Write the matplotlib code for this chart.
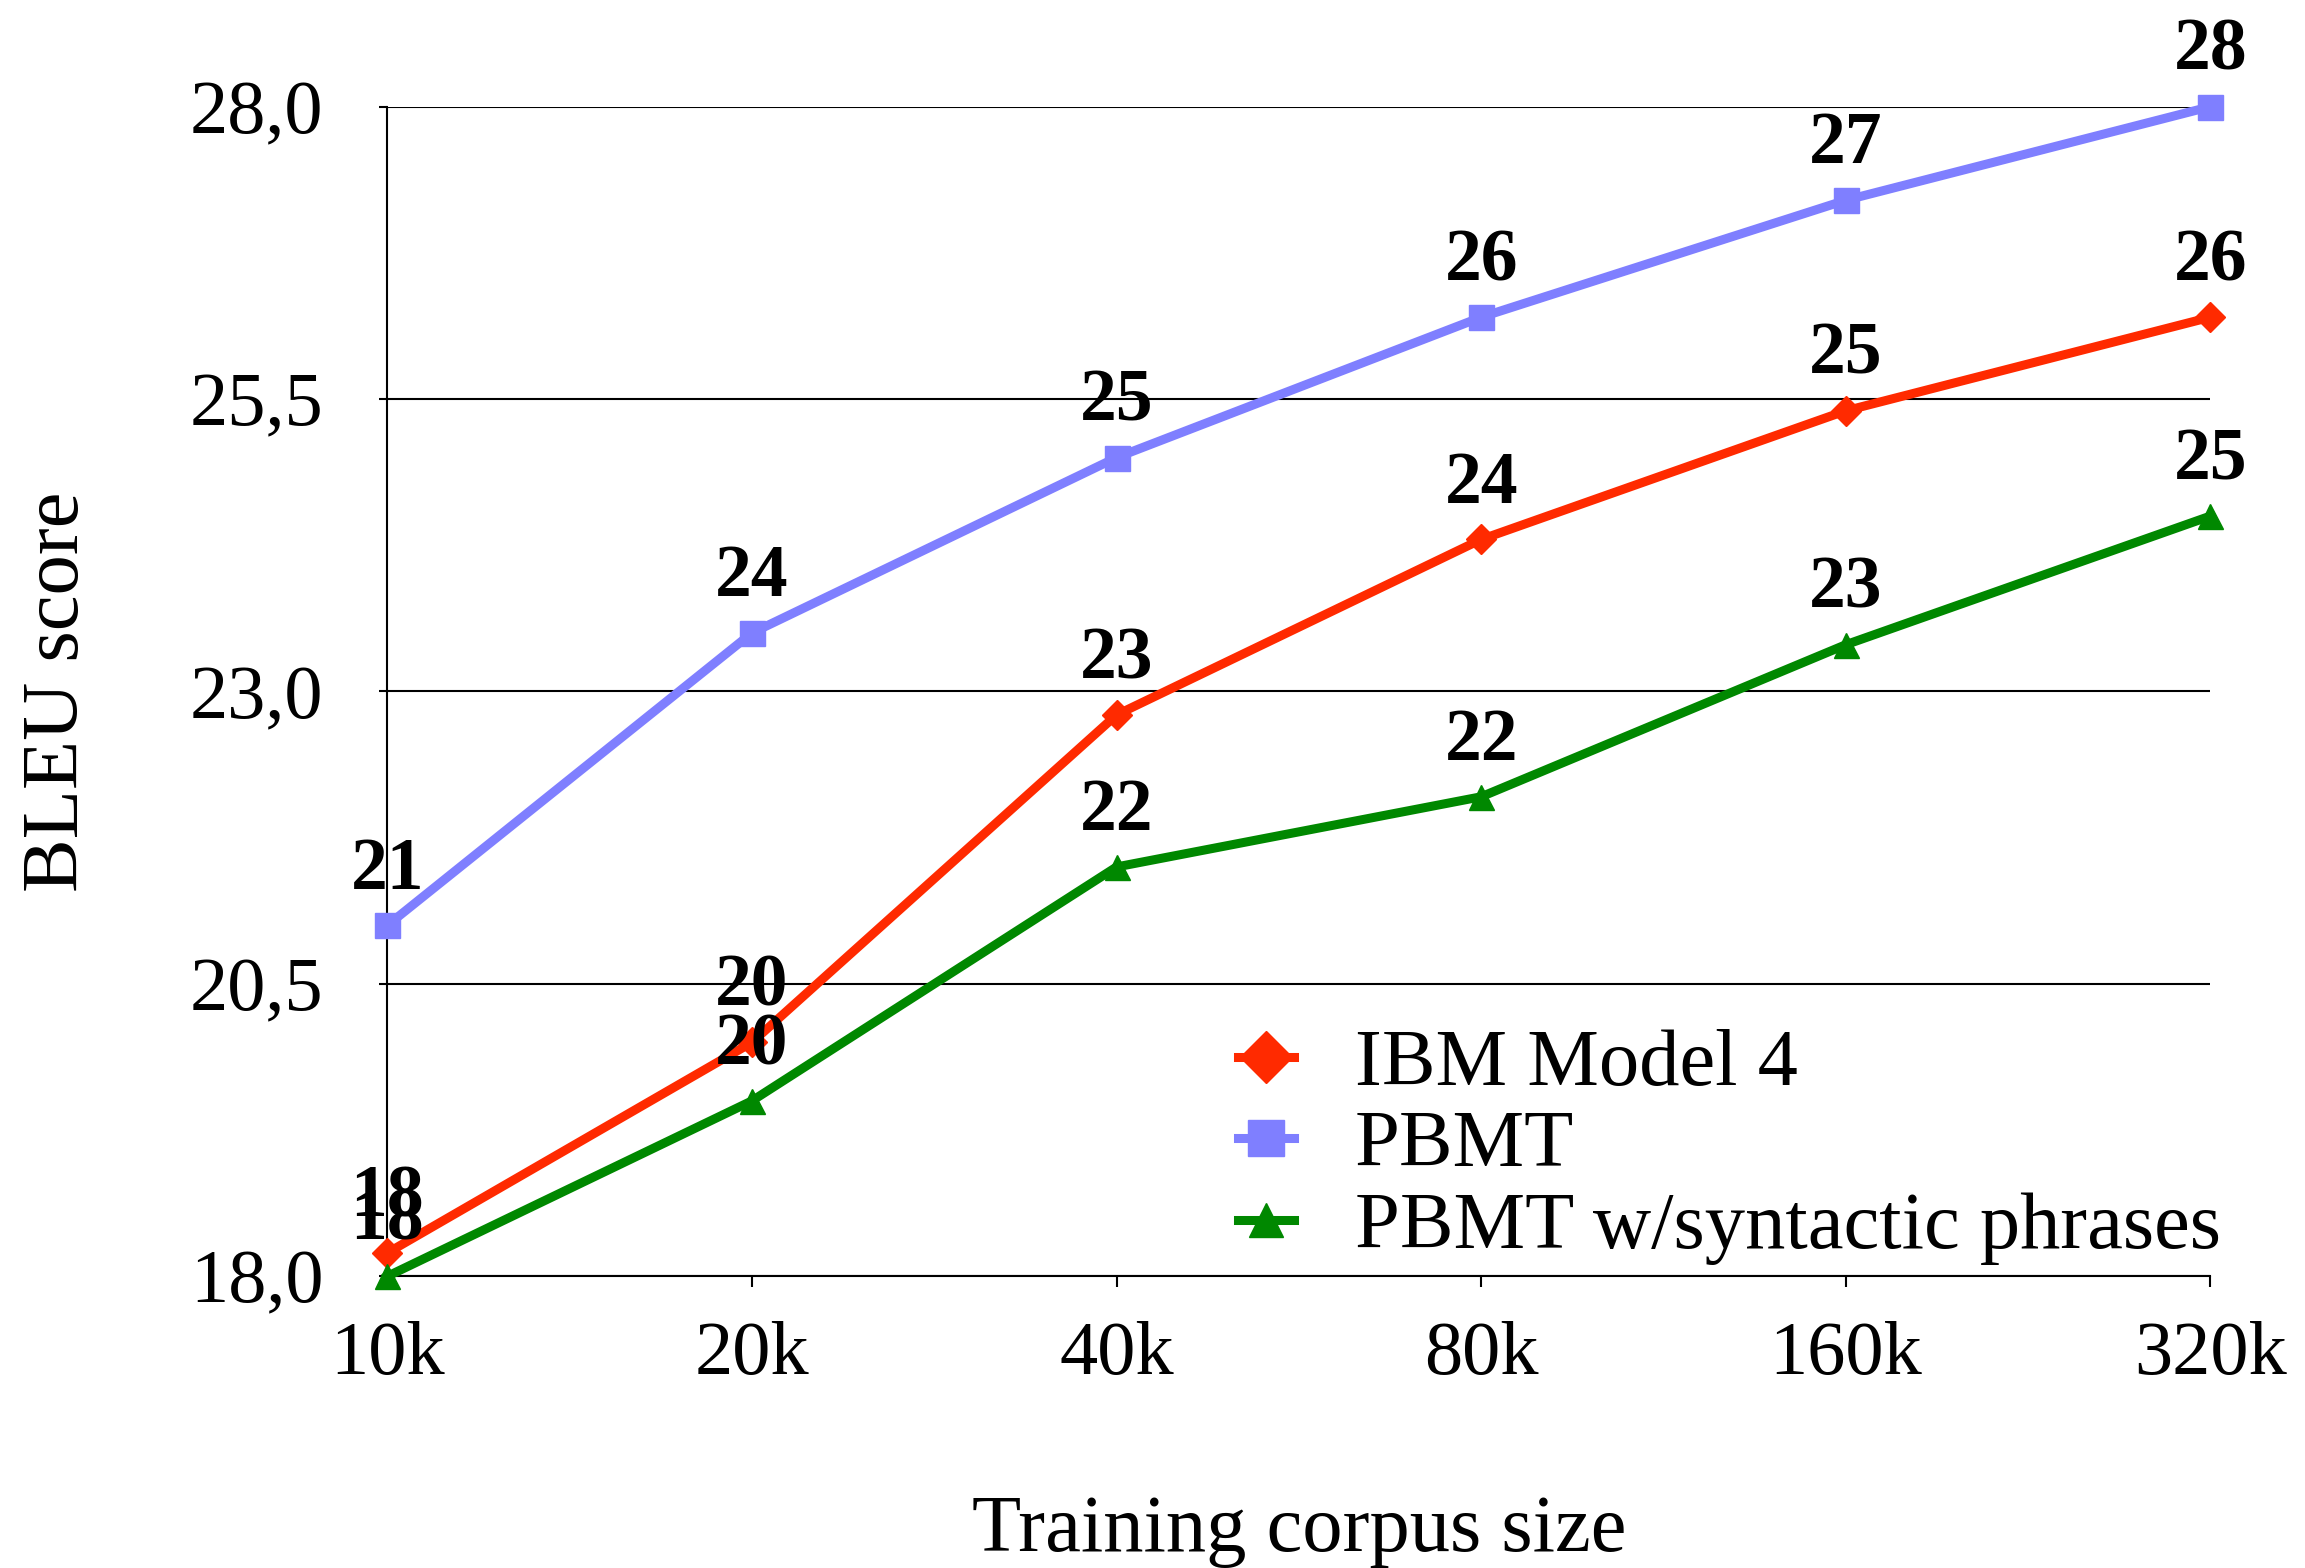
import matplotlib
matplotlib.use("Agg")
import matplotlib.pyplot as plt
from matplotlib.ticker import FuncFormatter

# datos
tamanos = ["10k", "20k", "40k", "80k", "160k", "320k"]
ibm_model4 = [18.2, 20.0, 22.8, 24.3, 25.4, 26.2]
pbmt = [21.0, 23.5, 25.0, 26.2, 27.2, 28.0]
pbmt_sintactico = [18.0, 19.5, 21.5, 22.1, 23.4, 24.5]
ticks_y = [18.0, 20.5, 23.0, 25.5, 28.0]

plt.rcParams["font.family"] = ["Liberation Serif", "DejaVu Serif"]

fig = plt.figure(figsize=(23.05, 15.68), dpi=100)
ax = fig.add_axes([0.168, 0.186, 0.791, 0.746])

x = list(range(len(tamanos)))
series = [
    ("IBM Model 4", ibm_model4, "#FF2A00", "D", 15),
    ("PBMT", pbmt, "#7F7FFF", "s", 18),
    ("PBMT w/syntactic phrases", pbmt_sintactico, "#008800", "^", 18),
]

for nombre, valores, color, marcador, tam in series:
    ax.plot(x, valores, color=color, lw=6.5, marker=marcador, markersize=tam,
            label=nombre, zorder=3, clip_on=False)
    for xi, v in zip(x, valores):
        # redondeo "a la mitad hacia arriba", como en la hoja de cálculo original
        ax.annotate(f"{int(v + 0.5)}", (xi, v), xytext=(0, 15), textcoords="offset points",
                    ha="center", va="bottom", fontsize=53, fontweight="bold", zorder=5)

ax.set_xlim(0, 5)
ax.set_ylim(18, 28)
ax.set_xticks(x)
ax.set_xticklabels(tamanos)
ax.set_yticks(ticks_y)
ax.yaxis.set_major_formatter(FuncFormatter(lambda v, _: f"{v:.1f}".replace(".", ",")))
ax.yaxis.grid(True, color="black", lw=1.5)
ax.set_axisbelow(True)

for lado in ["top", "right"]:
    ax.spines[lado].set_visible(False)
ax.spines["left"].set_linewidth(1.5)
ax.spines["bottom"].set_linewidth(1.5)
ax.tick_params(axis="y", length=6, width=1.5, pad=40, labelsize=55)
ax.tick_params(axis="x", length=8, width=1.5, pad=24, labelsize=55)

ax.set_xlabel("Training corpus size", fontsize=58, labelpad=76)
ax.set_ylabel("BLEU score", fontsize=58, labelpad=68)

leg = ax.legend(loc="upper left", bbox_to_anchor=(0.537, 0.344), bbox_transform=fig.transFigure,
                frameon=False, fontsize=58, handlelength=0.7, handletextpad=0.75,
                labelspacing=0.1, borderpad=0, borderaxespad=0)
for h, tam in zip(leg.legend_handles, [26, 26, 24]):
    h.set_markersize(tam)

plt.savefig("out.png", dpi=100)
